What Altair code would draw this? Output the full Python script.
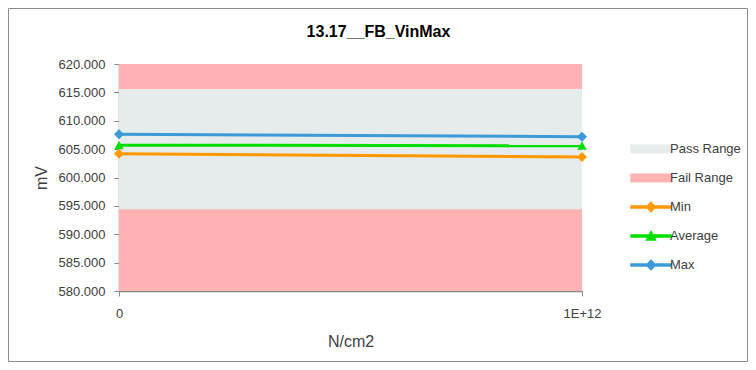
import altair as alt
import pandas as pd

# ---- data ----
x_vals = [0, 1e12]
min_vals = [604.2, 603.6]
avg_vals = [605.7, 605.6]
max_vals = [607.6, 607.2]
pass_range = [594.4, 615.6]
fail_range = [580.0, 620.0]
y_ticks = [580, 585, 590, 595, 600, 605, 610, 615, 620]
x_ticks = [0, 1e12]
series_names = ["Pass Range", "Fail Range", "Min", "Average", "Max"]
series_colors = ["#E6EBEB", "#FFB3B3", "#FF9900", "#00DD00", "#3B9AD7"]
line_series = ["Min", "Average", "Max"]
line_shapes = ["diamond", "triangle-up", "diamond"]

FONT = "Liberation Sans"
AXIS_COLOR = "#868686"
TEXT_COLOR = "#404040"

W, H = 463, 227
PAD = {"left": 111, "top": 56, "right": 166, "bottom": 71}

x_scale = alt.Scale(domain=[0, 1e12], nice=False, zero=False)
y_scale = alt.Scale(domain=[580, 620], nice=False, zero=False)

x_axis = alt.Axis(values=x_ticks, labelExpr="datum.value == 0 ? '0' : '1E+12'",
                  title="N/cm2", grid=False, tickSize=5, labelPadding=11,
                  titlePadding=13, titleFontSize=16, titleFontWeight="normal",
                  labelFlush=False)
y_axis = alt.Axis(values=y_ticks, format=".3f", title="mV", grid=False,
                  tickSize=5, labelPadding=9, titlePadding=9,
                  titleFontSize=16, titleFontWeight="normal")

# border of the chart frame
border = alt.Chart(pd.DataFrame({"a": [0]})).mark_rect(
    fillOpacity=0, stroke="#8C8C8C", strokeWidth=1
).encode(
    x=alt.value(-110.5), x2=alt.value(628.5),
    y=alt.value(-55.5), y2=alt.value(297.5)
)

band_df = pd.DataFrame({
    "name": ["Fail Range", "Pass Range"],
    "x": [x_vals[0], x_vals[0]],
    "x2": [x_vals[-1], x_vals[-1]],
    "y": [fail_range[0], pass_range[0]],
    "y2": [fail_range[1], pass_range[1]],
})

fail = alt.Chart(band_df[band_df.name == "Fail Range"]).mark_rect(
    color=series_colors[1]
).encode(
    x=alt.X("x:Q", scale=x_scale, axis=x_axis), x2="x2:Q",
    y=alt.Y("y:Q", scale=y_scale, axis=y_axis), y2="y2:Q",
)
passr = alt.Chart(band_df[band_df.name == "Pass Range"]).mark_rect(
    color=series_colors[0]
).encode(
    x=alt.X("x:Q", scale=x_scale, axis=x_axis), x2="x2:Q",
    y=alt.Y("y:Q", scale=y_scale, axis=y_axis), y2="y2:Q",
)

series_vals = {"Min": min_vals, "Average": avg_vals, "Max": max_vals}
layers = [border, fail, passr]
for name, shape in zip(line_series, line_shapes):
    df = pd.DataFrame({"x": x_vals, "y": series_vals[name]})
    c = series_colors[series_names.index(name)]
    base = alt.Chart(df).encode(
        x=alt.X("x:Q", scale=x_scale, axis=x_axis),
        y=alt.Y("y:Q", scale=y_scale, axis=y_axis),
    )
    layers.append(base.mark_line(color=c, strokeWidth=3))
    layers.append(base.mark_point(shape=shape, filled=True, size=100 if shape == "diamond" else 90,
                                  color=c, opacity=1))

# legend-only layer (points are placed left of the visible svg)
rect_path = "M-1.43,-0.31H1.43V0.31H-1.43Z"
line_path = "M-1.43,-0.116H1.43V0.116H-1.43Z"
diamond_path = line_path + " M0,-0.39L0.39,0L0,0.39L-0.39,0Z"
tri_path = line_path + " M-0.4,0.32L0,-0.42L0.4,0.32Z"
shape_paths = [rect_path, rect_path, diamond_path, tri_path, diamond_path]

legend_df = pd.DataFrame({"series": series_names})
leg = alt.Chart(legend_df).mark_point(filled=True, size=841).encode(
    x=alt.value(-2000), y=alt.value(100),
    color=alt.Color("series:N", scale=alt.Scale(domain=series_names, range=series_colors),
                    legend=alt.Legend(title=None)),
    shape=alt.Shape("series:N", scale=alt.Scale(domain=series_names, range=shape_paths),
                    legend=alt.Legend(title=None)),
)
layers.append(leg)

chart = alt.layer(*layers).properties(
    width=W, height=H,
    title=alt.TitleParams("13.17__FB_VinMax", fontSize=16, fontWeight="bold",
                          font=FONT, color="#000000", dx=28, dy=72, offset=27,
                          anchor="middle", frame="group", baseline="alphabetic"),
    autosize=alt.AutoSizeParams(type="none"),
    padding=PAD,
).configure_view(strokeWidth=0).configure_axis(
    domainColor=AXIS_COLOR, tickColor=AXIS_COLOR, labelColor=TEXT_COLOR,
    titleColor=TEXT_COLOR, labelFont=FONT, titleFont=FONT, labelFontSize=13,
    domainWidth=1.5,
).configure_legend(
    orient="none", legendX=517.5, legendY=70.5, padding=0, rowPadding=7,
    symbolSize=841, symbolStrokeWidth=0, labelFont=FONT, labelFontSize=13,
    labelColor=TEXT_COLOR, labelOffset=4.5, symbolOpacity=1,
)

chart.save("out.html", embed_options={"renderer": "svg", "actions": False})
